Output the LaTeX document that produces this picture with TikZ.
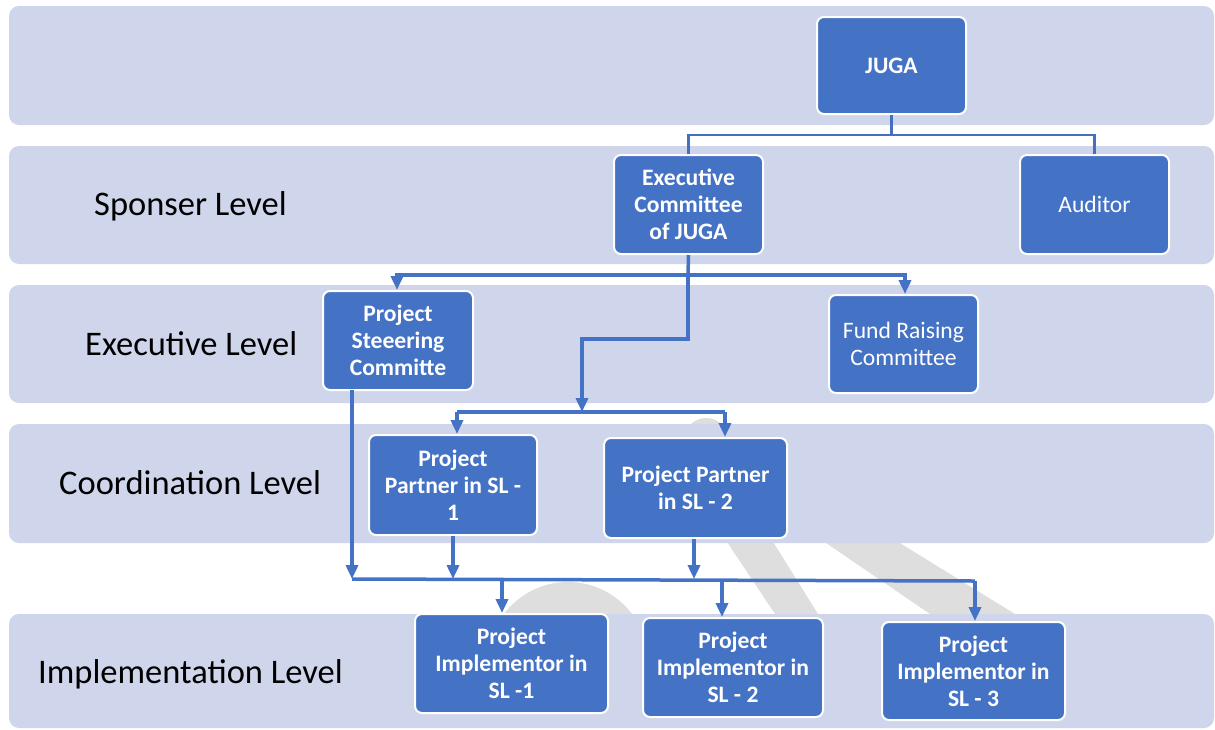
\documentclass[tikz,border=0pt]{standalone}
\usepackage{fontspec}
\setmainfont{Carlito}
\usetikzlibrary{arrows.meta}
\definecolor{bandfill}{HTML}{CFD5EA}
\definecolor{boxblue}{HTML}{4472C4}
\definecolor{linkblue}{HTML}{4470BE}
\definecolor{wmgrey}{HTML}{DEDEDE}

\begin{document}
\begin{tikzpicture}[x=1pt,y=-1pt,
  bandbox/.style={fill=bandfill, rounded corners=10pt},
  unit/.style={draw=white, line width=2pt, fill=boxblue, rounded corners=7pt,
    text=white, align=center, inner sep=0pt,
    font=\fontsize{23.6}{27}\selectfont\bfseries},
  unitplain/.style={unit, font=\fontsize{23.6}{27}\selectfont},
  lvl/.style={font=\fontsize{34.5}{41}\selectfont, anchor=base west, inner sep=0pt},
  link/.style={draw=linkblue, line width=2.5pt},
  flow/.style={draw=boxblue, line width=3.5pt, -{Triangle[width=12pt,length=14pt]}},
  bus/.style={draw=boxblue, line width=3.5pt},
]
\useasboundingbox (0,0) rectangle (1215,729);
\fill[white] (0,0) rectangle (1215,729);

% faint watermark strokes seen between the bands
\begin{scope}
  \clip (0,400) rectangle (1215,430) (0,535) rectangle (1215,620);
  \fill[wmgrey] (568,662) circle (80);
  \fill[wmgrey] (706,440) circle (22);
  \fill[wmgrey] (725.7,540) -- (771.9,540) -- (821.7,620) -- (779,620) -- cycle;
  \fill[wmgrey] (821.7,540) -- (894.9,540) -- (1024.7,620) -- (938.8,620) -- cycle;
\end{scope}

% level bands
\fill[bandbox] (9,6) rectangle (1214,125);
\fill[bandbox] (9,146) rectangle (1214,264);
\fill[bandbox] (9,285) rectangle (1214,403);
\fill[bandbox] (9,424) rectangle (1214,543);
\fill[bandbox] (9,614) rectangle (1214,728);

% level captions
\node[lvl] (lsp) at (94,215) {Sponser Level};
\node[lvl] (lex) at (85,355) {Executive Level};
\node[lvl] (lco) at (59,494) {Coordination Level};
\node[lvl] (lim) at (38,683) {Implementation Level};

% boxes
\node[unit, minimum width=149pt, minimum height=97pt] (juga) at (891.5,65.5) {JUGA};
\node[unit, minimum width=149pt, minimum height=99pt] (exec) at (688.5,204.5) {Executive\\Committee\\of JUGA};
\node[unitplain, minimum width=149pt, minimum height=99pt] (aud) at (1094.5,204.5) {Auditor};
\node[unit, minimum width=150pt, minimum height=99pt] (steer) at (398,340.5) {Project\\Steeering\\Committe};
\node[unitplain, minimum width=149pt, minimum height=98pt] (fund) at (903.5,344) {Fund Raising\\Committee};
\node[unit, minimum width=168pt, minimum height=100pt] (pp1) at (453,485) {Project\\Partner in SL -\\1};
\node[unit, minimum width=183pt, minimum height=100pt] (pp2) at (695.5,488) {Project Partner\\in SL - 2};
\node[unit, minimum width=193pt, minimum height=99pt] (pi1) at (511.5,663.5) {Project\\Implementor in\\SL -1};
\node[unit, minimum width=180pt, minimum height=99pt] (pi2) at (733,667.5) {Project\\Implementor in\\SL - 2};
\node[unit, minimum width=183pt, minimum height=98pt] (pi3) at (973.5,671) {Project\\Implementor in\\SL - 3};

% junction points
\coordinate (jtop) at (891.5,135);
\coordinate (jexec) at (688,275);
\coordinate (jbend) at (582,339);
\coordinate (jbar) at (582,412);
\coordinate (jbarL) at (457,412);
\coordinate (jbarR) at (725,412);
\coordinate (busL) at (352,579);
\coordinate (busR) at (975,581);
\coordinate (d1) at (502,580);
\coordinate (d2) at (722,580);
\coordinate (u0) at (352,390);

% sponsor links
\draw[link] (juga.south) -- (jtop) -| (exec.north);
\draw[link] (jtop) -| (aud.north);

% executive committee to executive level
\draw[bus] (exec.south) -- (jexec);
\draw[flow] (jexec) -| ([xshift=-1pt]steer.north);
\draw[flow] (jexec) -| ([xshift=1.5pt]fund.north);
\draw[flow] (jexec) |- (jbend) -- (jbar);

% coordination split
\draw[bus] (jbarL) -- (jbarR);
\draw[flow] (jbarL) -- (jbarL |- pp1.north);
\draw[flow] (jbarR) -- (jbarR |- pp2.north);

% feeders into the lower bus
\draw[flow] (u0) -- (busL);
\draw[flow] (pp1.south) -- (pp1.south |- busL);
\draw[flow] ([xshift=-1.5pt]pp2.south) -- ([xshift=-1.5pt]pp2.south |- busL);

% lower bus and implementors
\draw[bus] (busL) -- (busR);
\draw[flow] (busR) -- (busR |- pi3.north);
\draw[flow] (d1) -- (d1 |- pi1.north);
\draw[flow] (d2) -- (d2 |- pi2.north);
\end{tikzpicture}
\end{document}
